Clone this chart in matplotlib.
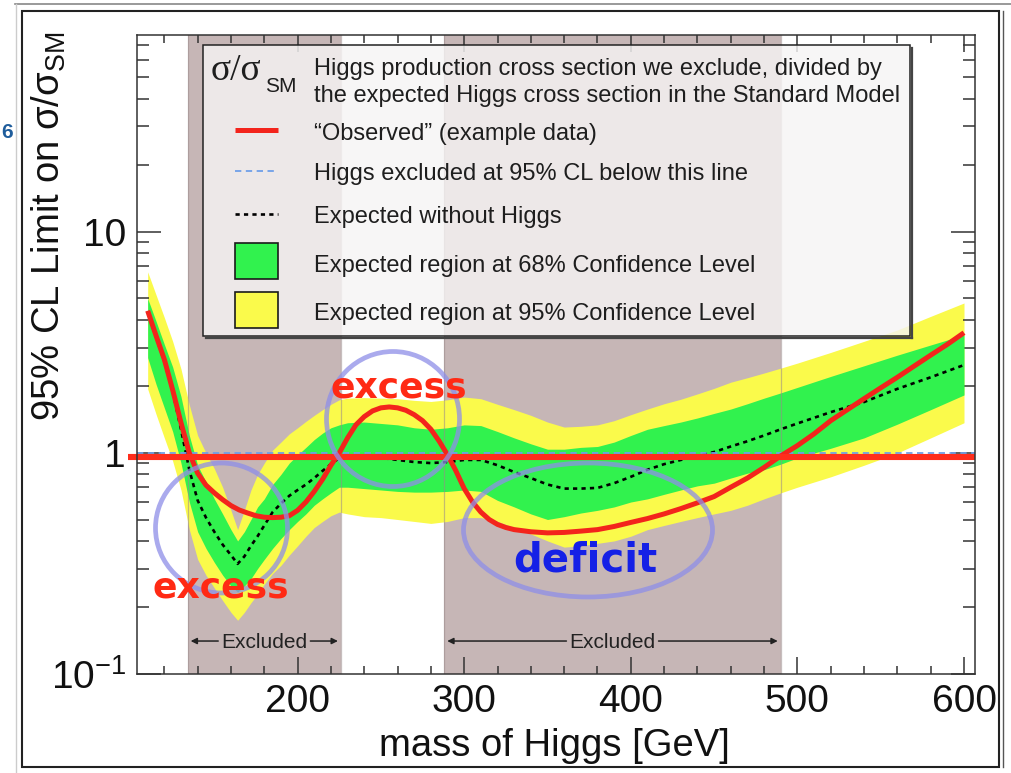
import matplotlib
matplotlib.use("Agg")
import matplotlib.pyplot as plt
from matplotlib import transforms as mtransforms
from matplotlib.patches import Rectangle, Ellipse
from matplotlib.lines import Line2D
from matplotlib.ticker import FixedLocator, FixedFormatter, MultipleLocator, LogLocator, NullFormatter

plt.rcParams['font.family'] = ['Liberation Sans', 'DejaVu Sans']
plt.rcParams['mathtext.fontset'] = 'custom'
plt.rcParams['mathtext.rm'] = 'Liberation Sans'
plt.rcParams['mathtext.it'] = 'Liberation Sans:italic'
plt.rcParams['mathtext.bf'] = 'Liberation Sans:bold'

# ---------------------------------------------------------------- data
# Higgs mass points [GeV] for the expected limit and its bands
mass = [110, 115, 120, 125, 130, 135, 140, 145, 150, 155, 160, 164, 168, 172, 176,
        180, 185, 190, 195, 200, 205, 210, 215, 220, 225, 230, 240, 250, 260, 270,
        280, 290, 300, 310, 320, 330, 340, 350, 360, 370, 380, 390, 400, 410, 420,
        430, 440, 450, 460, 470, 480, 490, 500, 520, 540, 560, 580, 600]

expected = [4.35, 3.35, 2.6, 1.9, 1.28, 0.84, 0.61, 0.51, 0.44, 0.385, 0.345, 0.315, 0.34, 0.38, 0.42,
            0.47, 0.54, 0.59, 0.64, 0.68, 0.72, 0.77, 0.83, 0.89, 0.95, 0.97, 0.96, 0.95, 0.93, 0.91,
            0.90, 0.91, 0.93, 0.93, 0.88, 0.82, 0.77, 0.72, 0.69, 0.69, 0.695, 0.73, 0.78, 0.84, 0.89,
            0.93, 0.97, 1.01, 1.07, 1.13, 1.20, 1.28, 1.36, 1.53, 1.70, 1.95, 2.2, 2.5]

band68_hi = [5.0, 3.95, 3.1, 2.45, 1.8, 1.2, 0.88, 0.74, 0.62, 0.53, 0.45, 0.40, 0.44, 0.50, 0.57,
             0.62, 0.72, 0.80, 0.90, 0.98, 1.06, 1.15, 1.23, 1.30, 1.34, 1.37, 1.38, 1.36, 1.34, 1.30,
             1.28, 1.30, 1.34, 1.33, 1.25, 1.17, 1.10, 1.04, 1.04, 1.06, 1.07, 1.12, 1.20, 1.28, 1.33,
             1.38, 1.44, 1.51, 1.58, 1.67, 1.77, 1.87, 1.98, 2.22, 2.48, 2.77, 3.08, 3.42]

band68_lo = [2.7, 2.05, 1.6, 1.25, 0.9, 0.6, 0.44, 0.37, 0.32, 0.28, 0.25, 0.235, 0.25, 0.27, 0.30,
             0.33, 0.37, 0.41, 0.45, 0.49, 0.53, 0.58, 0.62, 0.66, 0.70, 0.70, 0.69, 0.68, 0.67, 0.665,
             0.665, 0.67, 0.68, 0.67, 0.61, 0.57, 0.53, 0.50, 0.515, 0.535, 0.55, 0.57, 0.60, 0.62, 0.65,
             0.68, 0.71, 0.73, 0.77, 0.81, 0.84, 0.89, 0.95, 1.05, 1.17, 1.35, 1.57, 1.83]

band95_hi = [6.6, 5.2, 4.1, 3.2, 2.4, 1.65, 1.2, 1.0, 0.85, 0.70, 0.55, 0.45, 0.55, 0.68, 0.80,
             0.90, 1.03, 1.12, 1.22, 1.30, 1.39, 1.48, 1.57, 1.66, 1.74, 1.77, 1.78, 1.77, 1.76, 1.73,
             1.71, 1.74, 1.79, 1.76, 1.66, 1.57, 1.48, 1.38, 1.31, 1.32, 1.34, 1.40, 1.49, 1.58, 1.67,
             1.75, 1.85, 1.96, 2.09, 2.19, 2.30, 2.42, 2.55, 2.85, 3.2, 3.6, 4.15, 4.77]

band95_lo = [1.95, 1.50, 1.17, 0.92, 0.68, 0.45, 0.33, 0.28, 0.245, 0.215, 0.19, 0.175, 0.19, 0.21, 0.23,
             0.255, 0.285, 0.31, 0.345, 0.38, 0.42, 0.46, 0.49, 0.52, 0.54, 0.53, 0.515, 0.51, 0.50, 0.49,
             0.48, 0.49, 0.51, 0.51, 0.49, 0.46, 0.43, 0.40, 0.375, 0.38, 0.39, 0.40, 0.42, 0.45, 0.47,
             0.49, 0.51, 0.53, 0.55, 0.58, 0.62, 0.66, 0.70, 0.78, 0.88, 1.0, 1.17, 1.37]

# "Observed" example limit
mass_obs = [110, 115, 120, 125, 130, 135, 140, 145, 150, 155, 160, 165, 170, 175, 180, 185, 190,
            195, 200, 205, 210, 215, 220, 225, 230, 235, 240, 245, 250, 255, 260, 265, 270, 275,
            280, 285, 290, 295, 300, 305, 310, 315, 320, 325, 330, 340, 350, 360, 370, 380, 390, 400,
            410, 420, 430, 440, 450, 460, 470, 480, 490, 500, 510, 520, 530, 540, 550, 560, 570,
            580, 590, 600]
observed = [4.4, 3.4, 2.65, 1.93, 1.37, 1.0, 0.81, 0.715, 0.66, 0.615, 0.578, 0.552, 0.535, 0.52,
            0.512, 0.51, 0.512, 0.52, 0.55, 0.60, 0.67, 0.76, 0.88, 1.0, 1.17, 1.34, 1.46, 1.55,
            1.60, 1.615, 1.60, 1.56, 1.49, 1.40, 1.28, 1.13, 0.98, 0.83, 0.69, 0.60, 0.54, 0.50,
            0.475, 0.46, 0.45, 0.44, 0.435, 0.437, 0.443, 0.45, 0.465, 0.485, 0.505, 0.53, 0.56, 0.595,
            0.635, 0.70, 0.77, 0.86, 0.97, 1.08, 1.22, 1.40, 1.57, 1.76, 1.97, 2.2, 2.47, 2.77,
            3.1, 3.5]

excluded_ranges = [(134, 226), (288, 490)]
sm_level = 1.0
highlight_level = 0.96

x_ticks = [200, 300, 400, 500, 600]
x_tick_labels = ['200', '300', '400', '500', '600']
y_ticks = [0.1, 1, 10]
y_tick_labels = [r'$\mathregular{10^{-1}}$', '1', '10']

legend_lines = ['\u201cObserved\u201d (example data)',
                'Higgs excluded at 95% CL below this line',
                'Expected without Higgs',
                'Expected region at 68% Confidence Level',
                'Expected region at 95% Confidence Level']

# ---------------------------------------------------------------- style
C_EXCL = '#c6b6b6'
C_GREEN = '#31f24e'
C_YELLOW = '#fafa4b'
C_RED = '#f3241c'
C_BLUE = '#6f9fe8'
C_CIRCLE = '#8e8ee8'
C_INK = '#1e1e1e'

W, H = 1011, 773
fig = plt.figure(figsize=(W / 100, H / 100), dpi=100)
fig.patch.set_facecolor('white')
ax = fig.add_axes([137 / W, (H - 674) / H, 838 / W, 639 / H])
# pixel frame measured from the top-left corner of the canvas
px = mtransforms.Affine2D().scale(1 / W, -1 / H).translate(0, 1) + fig.transFigure

ax.set_yscale('log')
ax.set_xlim(103.6, 606.6)
ax.set_ylim(0.1, 77.8)

# excluded mass windows
for lo, hi in excluded_ranges:
    ax.axvspan(lo, hi, color=C_EXCL, lw=0, zorder=0)

# expected bands
ax.fill_between(mass, band95_lo, band95_hi, color=C_YELLOW, lw=0, zorder=1)
ax.fill_between(mass, band68_lo, band68_hi, color=C_GREEN, lw=0, zorder=2)

for lo, hi in excluded_ranges:
    for edge in (lo, hi):
        ax.axvline(edge, color='#9a8a8a', lw=0.9, alpha=0.55, zorder=3)

ax.plot(mass, expected, color='black', lw=1.9, ls=(0, (1.6, 1.6)), zorder=4)
ax.axhline(sm_level, color=C_BLUE, lw=1.3, ls=(0, (3.5, 2.5)), zorder=4)
ax.plot(mass_obs, observed, color=C_RED, lw=3.6, zorder=5, solid_capstyle='butt')

# hand-drawn highlight of sigma/sigma_SM = 1
ax.plot([98.2, 606.8], [highlight_level, highlight_level], color='#ff2d1c', lw=4.4,
        zorder=6, clip_on=False, solid_capstyle='butt')

# ---------------------------------------------------------------- axes
for sp in ax.spines.values():
    sp.set_color('#333333')
    sp.set_linewidth(1.1)
    sp.set_zorder(7)

ax.xaxis.set_major_locator(FixedLocator(x_ticks))
ax.xaxis.set_major_formatter(FixedFormatter(x_tick_labels))
ax.xaxis.set_minor_locator(MultipleLocator(20))
ax.yaxis.set_major_locator(FixedLocator(y_ticks))
ax.yaxis.set_major_formatter(FixedFormatter(y_tick_labels))
ax.yaxis.set_minor_locator(LogLocator(base=10, subs=[2, 3, 4, 5, 6, 7, 8, 9]))
ax.yaxis.set_minor_formatter(NullFormatter())

ax.tick_params(which='both', direction='in', top=True, right=True, color='#333333', width=1.1,
               labelcolor='#111111')
ax.tick_params(axis='y', which='major', length=17, pad=8, labelsize=28)
ax.tick_params(axis='y', which='minor', length=8.6)
ax.tick_params(axis='x', which='major', length=12, pad=7, labelsize=28)
ax.tick_params(axis='x', which='minor', length=5.5)

ax.set_xlabel('mass of Higgs [GeV]', fontsize=27.5, color='#111111')
ax.xaxis.set_label_coords(0.4976, -0.085)
ax.set_ylabel(r'95% CL Limit on $\mathregular{\sigma/\sigma_{SM}}$', fontsize=27.5,
              color='#111111', loc='top')
ax.yaxis.set_label_coords(-0.0823, 1.005)

# ---------------------------------------------------------------- legend box
ax.add_patch(Rectangle((203, 45), 707, 291, transform=px, facecolor='#f6f4f4', alpha=0.82,
                       edgecolor='none', zorder=8, clip_on=False))
ax.add_patch(Rectangle((203, 45), 707, 291, transform=px, facecolor='none',
                       edgecolor='#222222', lw=1.1, zorder=9, clip_on=False))
ax.add_line(Line2D([206, 912], [337.5, 337.5], transform=px, color='#444444', lw=1.6, zorder=9,
                   clip_on=False))
ax.add_line(Line2D([911.5, 911.5], [48, 337.5], transform=px, color='#444444', lw=1.6, zorder=9,
                   clip_on=False))

ax.text(211, 80, '\u03c3/\u03c3', transform=px, fontsize=27, family='Liberation Serif',
        va='baseline', ha='left', color=C_INK, zorder=10)
ax.text(265, 92, 'SM', transform=px, fontsize=15, va='baseline', ha='left', color=C_INK, zorder=10)
ax.text(314, 75, 'Higgs production cross section we exclude, divided by', transform=px,
        fontsize=17, va='baseline', color=C_INK, zorder=10)
ax.text(314, 102, 'the expected Higgs cross section in the Standard Model', transform=px,
        fontsize=17, va='baseline', color=C_INK, zorder=10)
for txt, base in zip(legend_lines, [140, 180, 223, 272, 320]):
    ax.text(314, base, txt, transform=px, fontsize=17, va='baseline', color=C_INK, zorder=10)

ax.add_line(Line2D([235, 278], [129.5, 129.5], transform=px, color=C_RED, lw=3.6, zorder=10,
                   solid_capstyle='butt', clip_on=False))
ax.add_line(Line2D([235, 278], [170.5, 170.5], transform=px, color=C_BLUE, lw=1.3,
                   ls=(0, (3.5, 2.5)), zorder=10, clip_on=False))
ax.add_line(Line2D([235, 278], [213.5, 213.5], transform=px, color='black', lw=1.9,
                   ls=(0, (1.6, 1.6)), zorder=10, clip_on=False))
ax.add_patch(Rectangle((235, 243), 43, 36, transform=px, facecolor=C_GREEN, edgecolor='#1a1a1a',
                       lw=1.2, zorder=10, clip_on=False))
ax.add_patch(Rectangle((235, 292), 43, 36, transform=px, facecolor=C_YELLOW, edgecolor='#1a1a1a',
                       lw=1.2, zorder=10, clip_on=False))

# ---------------------------------------------------------------- "Excluded" markers
blend = mtransforms.blended_transform_factory(ax.transData, ax.transAxes)
excl_texts = []
for lo, hi in excluded_ranges:
    t = ax.text((lo + hi) / 2, 0.040, 'Excluded', transform=blend, fontsize=15, ha='center',
                va='baseline', color='#222222', zorder=6)
    excl_texts.append(t)

fig.canvas.draw()
renderer = fig.canvas.get_renderer()
inv = ax.transData.inverted()
for (lo, hi), t in zip(excluded_ranges, excl_texts):
    bb = t.get_window_extent(renderer)
    x_left = inv.transform((bb.x0 - 3, 0))[0]
    x_right = inv.transform((bb.x1 + 3, 0))[0]
    arrow = dict(arrowstyle='-|>', lw=1.1, color='#222222', mutation_scale=9,
                 shrinkA=0, shrinkB=0)
    ax.annotate('', xy=(lo + 1.8, 0.0516), xytext=(x_left, 0.0516), xycoords=blend,
                textcoords=blend, arrowprops=arrow, zorder=6)
    ax.annotate('', xy=(hi - 1.8, 0.0516), xytext=(x_right, 0.0516), xycoords=blend,
                textcoords=blend, arrowprops=arrow, zorder=6)

# ---------------------------------------------------------------- hand annotations
for (cx, cy, w, h) in [(221.5, 528, 132, 130), (393, 419, 133, 135), (588, 530, 249, 134)]:
    ax.add_patch(Ellipse((cx, cy), w, h, transform=px, facecolor='none', edgecolor=C_CIRCLE,
                         lw=3.4, alpha=0.75, zorder=11, clip_on=False))

ax.text(399, 387, 'excess', transform=px, fontsize=26, fontweight='bold', family='DejaVu Sans',
        color='#ff2a14', ha='center', va='center', zorder=12)
ax.text(221, 587, 'excess', transform=px, fontsize=26, fontweight='bold', family='DejaVu Sans',
        color='#ff2a14', ha='center', va='center', zorder=12)
ax.text(585, 560, 'deficit', transform=px, fontsize=29, fontweight='bold', family='DejaVu Sans',
        color='#1520e6', ha='center', va='center', zorder=12)

# ---------------------------------------------------------------- page frame
fig.add_artist(Line2D([15, W], [4, 4], transform=px, color='#888888', lw=1.2))
fig.add_artist(Line2D([16, 16], [4, H], transform=px, color='#cccccc', lw=1.0))
fig.add_artist(Rectangle((22, 11), 977, 756, transform=px, fill=False, edgecolor='#222222', lw=1.5))
fig.add_artist(Line2D([1003, 1003], [11, 767], transform=px, color='#555555', lw=1.0))
fig.text(1, 133, '6', transform=px, fontsize=15, fontweight='bold', color='#1f5d9c',
         ha='left', va='center')

fig.savefig('out.png', dpi=100)
